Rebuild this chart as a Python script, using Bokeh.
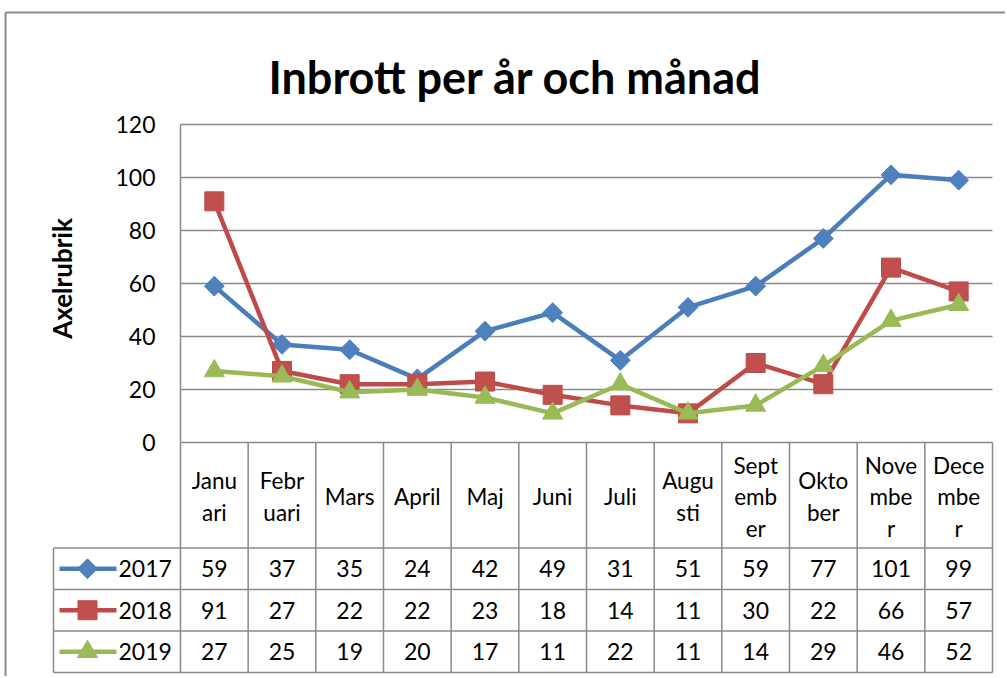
from bokeh.plotting import figure
from bokeh.models import Range1d, FixedTicker, ColumnDataSource
from bokeh.core.properties import value
from bokeh.embed import file_html
from bokeh.resources import INLINE
import math

# ---------------- data ----------------
months = ["Januari", "Februari", "Mars", "April", "Maj", "Juni", "Juli",
          "Augusti", "September", "Oktober", "November", "December"]
header_labels = ["Janu\nari", "Febr\nuari", "Mars", "April", "Maj", "Juni", "Juli",
                 "Augu\nsti", "Sept\nemb\ner", "Okto\nber", "Nove\nmbe\nr", "Dece\nmbe\nr"]
years = ["2017", "2018", "2019"]
v2017 = [59, 37, 35, 24, 42, 49, 31, 51, 59, 77, 101, 99]
v2018 = [91, 27, 22, 22, 23, 18, 14, 11, 30, 22, 66, 57]
v2019 = [27, 25, 19, 20, 17, 11, 22, 11, 14, 29, 46, 52]
y_ticks = [0, 20, 40, 60, 80, 100, 120]
title_text = "Inbrott per år och månad"
y_title = "Axelrubrik"

series = [v2017, v2018, v2019]
line_colors = ["#4A7EBB", "#BE4B48", "#98B954"]
fill_colors = ["#4F81BD", "#C0504D", "#9BBB59"]
markers = ["square", "square", "triangle"]
marker_angles = [math.pi / 4, 0, 0]
marker_sizes = [14, 19, 20]

FONT = "Lato"
GRID = "#8a8a8a"

# ---------------- geometry (screen px -> data) ----------------
W, H = 1005, 676
U = 812 / 12.0          # px per category
K = 318 / 120.0         # px per y unit
x0 = 0.5 - 180 / U
x1 = x0 + W / U
y1 = 442 / K
y0 = y1 - H / K

def dx(px):  # reference pixel x -> data x
    return 0.5 + (px - 180) / U

def dy(py):  # reference pixel y -> data y
    return (442 - py) / K

p = figure(width=W, height=H, output_backend="svg", toolbar_location=None,
           x_range=Range1d(x0, x1), y_range=Range1d(y0, y1),
           min_border=0, outline_line_color=None)
p.background_fill_color = "white"
p.border_fill_color = "white"
p.xaxis.visible = False
p.xgrid.visible = False
p.ygrid.visible = False

ya = p.yaxis[0]
ya.fixed_location = 0.5
ya.bounds = (0, 120)
ya.ticker = FixedTicker(ticks=y_ticks)
ya.major_tick_out = 0
ya.major_tick_in = 0
ya.minor_tick_out = 0
ya.minor_tick_in = 0
ya.axis_line_color = GRID
ya.axis_line_width = 1.5
ya.major_label_standoff = 25
ya.major_label_text_font = FONT
ya.major_label_text_font_size = "23px"
ya.major_label_text_color = "black"

n = len(months)
xs = list(range(1, n + 1))

# gridlines
p.segment(x0=[0.5] * len(y_ticks), x1=[n + 0.5] * len(y_ticks), y0=y_ticks, y1=y_ticks,
          line_color=GRID, line_width=1.5)

# ---------------- table ----------------
H1 = 105.5 / K
R = 41.5 / K
leg_x = dx(53)
row_tops = [-H1 - R * i for i in range(4)]
p.segment(x0=[leg_x] * 4, x1=[n + 0.5] * 4, y0=row_tops, y1=row_tops,
          line_color=GRID, line_width=1.5)
vx = [0.5 + k for k in range(n + 1)]
p.segment(x0=vx, x1=vx, y0=[0] * len(vx), y1=[row_tops[-1]] * len(vx),
          line_color=GRID, line_width=1.5)
p.segment(x0=[leg_x], x1=[leg_x], y0=[row_tops[0]], y1=[row_tops[-1]],
          line_color=GRID, line_width=1.5)

p.text(x=xs, y=[-H1 / 2 - 1.5 / K] * n, text=header_labels, text_align="center",
       text_baseline="middle", text_font=value(FONT), text_font_size="22.5px",
       text_line_height=1.17, text_color="black")

for i, vals in enumerate(series):
    yc = -H1 - R * (i + 0.5)
    p.text(x=xs, y=[yc] * n, text=[str(v) for v in vals], text_align="center",
           text_baseline="middle", text_font=value(FONT), text_font_size="23px",
           text_color="black")
    p.line(x=[dx(59), dx(116)], y=[yc, yc], line_color=line_colors[i], line_width=4.5)
    p.scatter(x=[dx(87)], y=[yc], marker=markers[i], size=marker_sizes[i],
              angle=marker_angles[i], fill_color=fill_colors[i],
              line_color=line_colors[i])
    p.text(x=[dx(118)], y=[yc], text=[years[i]], text_align="left",
           text_baseline="middle", text_font=value(FONT), text_font_size="23px",
           text_color="black")

# ---------------- series ----------------
for i, vals in enumerate(series):
    src = ColumnDataSource(dict(x=xs, y=vals))
    p.line("x", "y", source=src, line_color=line_colors[i], line_width=4.5)
    p.scatter("x", "y", source=src, marker=markers[i], size=marker_sizes[i],
              angle=marker_angles[i], fill_color=fill_colors[i],
              line_color=line_colors[i])

# ---------------- titles / border ----------------
p.text(x=[dx(515)], y=[dy(76)], text=[title_text], text_align="center",
       text_baseline="alphabetic", text_font=value(FONT), text_font_size="45px",
       text_font_style="bold", text_color="black")
p.text(x=[dx(61)], y=[dy(278)], text=[y_title], angle=math.pi / 2,
       text_align="center", text_baseline="middle", text_font=value(FONT),
       text_font_size="26px", text_font_style="bold", text_color="black")

p.segment(x0=[dx(5)], x1=[x1], y0=[dy(12)], y1=[dy(12)], line_color="#8a8a8a", line_width=2)
p.segment(x0=[dx(5)], x1=[dx(5)], y0=[dy(12)], y1=[y0], line_color="#8a8a8a", line_width=2)

open("out.html", "w").write(file_html(p, INLINE))
